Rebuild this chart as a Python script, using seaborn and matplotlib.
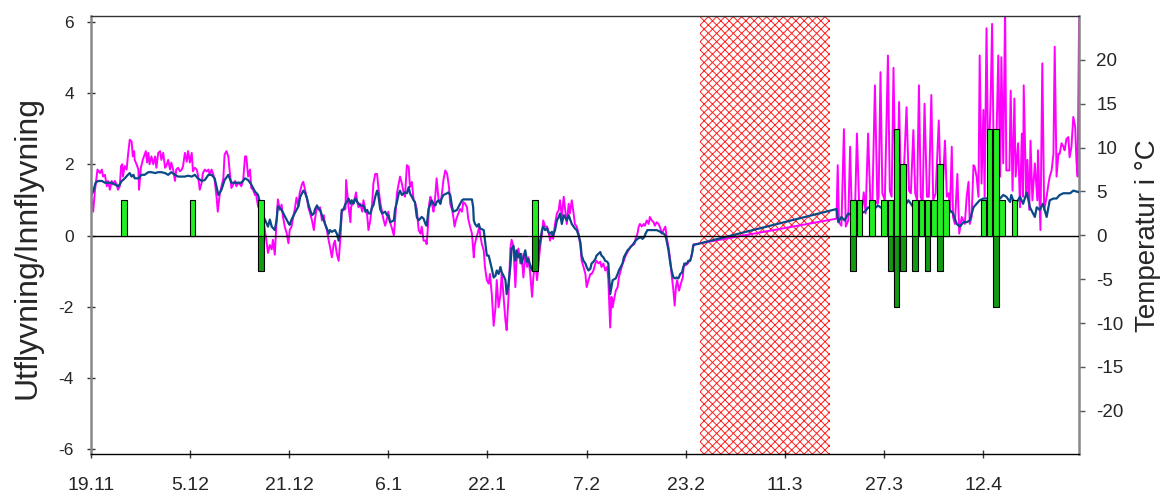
import matplotlib
matplotlib.use("Agg")
import matplotlib.pyplot as plt
import seaborn as sns

sns.set_theme(style="white")
plt.rcParams["font.family"] = ["Liberation Sans", "DejaVu Sans"]
plt.rcParams["axes.unicode_minus"] = False
plt.rcParams["hatch.linewidth"] = 0.7

# x is days counted from 19.11
tick_days = [0, 16, 32, 48, 64, 80, 96, 112, 128, 144]
tick_labels = ["19.11", "5.12", "21.12", "6.1", "22.1", "7.2", "23.2", "11.3", "27.3", "12.4"]

# period without data (hatched)
gap_start, gap_end = 98.3, 119.3

# flights out/in per day
out_days = [5.4, 16.4, 27.5, 71.7, 123, 124, 126, 128, 129, 130, 131, 133, 134, 135,
            136, 137, 138, 144, 145, 146, 147, 149]
out_count = [1, 1, 1, 1, 1, 1, 1, 1, 1, 3, 2, 1, 1, 1,
             1, 2, 1, 1, 3, 3, 1, 1]
in_days = [27.5, 71.7, 123, 129, 130, 131, 133, 135, 137, 146]
in_count = [-1, -1, -1, -1, -2, -1, -1, -1, -1, -2]

# temperature, magenta sensor
magenta_day = [
    0.0, 0.1, 0.4, 0.7, 1.1, 1.5, 1.8, 2.0, 2.3, 2.6,
    2.8, 3.1, 3.4, 3.6, 3.9, 4.2, 4.4, 4.7, 4.9, 5.1,
    5.2, 5.5, 5.8, 6.0, 6.3, 6.6, 6.8, 7.0, 7.1, 7.4,
    7.7, 7.8, 8.1, 8.4, 8.6, 8.9, 9.1, 9.3, 9.5, 9.8,
    10.1, 10.4, 10.6, 10.9, 11.2, 11.4, 11.7, 12.0, 12.2, 12.5,
    12.8, 13.0, 13.3, 13.6, 13.8, 14.1, 14.4, 14.7, 14.9, 15.2,
    15.5, 15.7, 16.0, 16.3, 16.5, 16.8, 17.1, 17.3, 17.6, 17.9,
    18.1, 18.4, 18.7, 19.0, 19.2, 19.5, 19.8, 20.0, 20.3, 20.5,
    20.7, 20.8, 21.1, 21.4, 21.6, 21.9, 22.2, 22.4, 22.7, 23.0,
    23.3, 23.5, 23.8, 24.1, 24.3, 24.6, 24.9, 25.1, 25.4, 25.7,
    25.9, 26.2, 26.5, 26.7, 27.0, 27.3, 27.6, 27.8, 28.1, 28.4,
    28.6, 28.9, 29.2, 29.4, 29.7, 30.0, 30.2, 30.5, 30.8, 31.0,
    31.3, 31.6, 31.9, 32.1, 32.4, 32.7, 32.9, 33.2, 33.5, 33.7,
    34.1, 34.3, 34.6, 34.9, 35.1, 35.4, 35.7, 36.0, 36.2, 36.5,
    36.8, 37.0, 37.3, 37.6, 37.8, 38.1, 38.4, 38.6, 38.9, 39.2,
    39.4, 39.7, 40.0, 40.3, 40.5, 40.8, 41.1, 41.2, 41.4, 41.6,
    41.9, 42.0, 42.3, 42.6, 42.8, 43.0, 43.2, 43.5, 43.8, 44.0,
    44.3, 44.6, 44.8, 45.1, 45.4, 45.6, 45.9, 46.2, 46.4, 46.7,
    47.0, 47.2, 47.5, 47.8, 48.0, 48.3, 48.6, 48.9, 49.1, 49.4,
    49.7, 49.9, 50.2, 50.5, 50.7, 51.0, 51.3, 51.5, 51.8, 52.1,
    52.3, 52.6, 52.9, 53.2, 53.4, 53.7, 54.0, 54.2, 54.4, 54.6,
    54.8, 54.9, 55.1, 55.3, 55.6, 55.8, 56.1, 56.4, 56.6, 56.9,
    57.2, 57.5, 57.6, 57.8, 58.0, 58.3, 58.5, 58.7, 58.9, 59.1,
    59.3, 59.6, 59.9, 60.1, 60.4, 60.7, 60.9, 61.2, 61.5, 61.8,
    61.9, 62.1, 62.4, 62.7, 62.8, 63.1, 63.4, 63.6, 63.9, 64.2,
    64.4, 64.7, 65.0, 65.3, 65.5, 65.8, 66.1, 66.3, 66.6, 66.9,
    67.1, 67.4, 67.7, 67.9, 68.2, 68.5, 68.7, 69.0, 69.3, 69.5,
    69.8, 70.1, 70.4, 70.6, 70.9, 71.2, 71.4, 71.7, 72.0, 72.2,
    72.5, 72.8, 73.0, 73.3, 73.6, 73.8, 74.1, 74.4, 74.6, 74.9,
    75.2, 75.5, 75.7, 76.0, 76.3, 76.5, 76.8, 77.1, 77.3, 77.6,
    77.9, 78.1, 78.4, 78.7, 79.0, 79.2, 79.5, 79.8, 80.0, 80.3,
    80.6, 80.8, 81.1, 81.4, 81.6, 81.9, 82.2, 82.4, 82.7, 83.0,
    83.3, 83.5, 83.8, 84.0, 84.2, 84.4, 84.7, 85.0, 85.2, 85.5,
    85.8, 86.0, 86.3, 86.6, 86.9, 87.1, 87.4, 87.7, 87.9, 88.2,
    88.4, 88.6, 88.9, 89.2, 89.4, 89.7, 90.0, 90.2, 90.5, 90.8,
    91.0, 91.3, 91.6, 91.9, 92.1, 92.4, 92.7, 92.9, 93.2, 93.5,
    93.7, 94.0, 94.2, 94.4, 94.6, 94.9, 95.2, 95.5, 95.7, 96.0,
    96.3, 96.5, 96.8, 97.1, 97.3, 97.6,
    120.3, 120.5, 120.7, 121.1, 121.5, 121.8, 122.2, 122.5, 122.8, 123.3,
    123.6, 124.0, 124.3, 124.7, 125.0, 125.4, 125.8, 126.1, 126.5, 126.9,
    127.1, 127.4, 127.7, 128.1, 128.6, 128.9, 129.2, 129.5, 129.8, 130.1,
    130.4, 130.7, 131.0, 131.6, 132.0, 132.3, 132.7, 133.0, 133.3, 133.6,
    133.9, 134.2, 134.5, 134.9, 135.2, 135.6, 135.9, 136.3, 136.8, 137.1,
    137.4, 137.8, 138.1, 138.4, 138.6, 138.9, 139.1, 139.4, 139.8, 140.1,
    140.5, 141.0, 141.3, 141.6, 141.8, 142.1, 142.4, 142.6, 142.9, 143.2,
    143.4, 143.7, 144.0, 144.2, 144.5, 144.8, 145.2, 145.4, 145.7, 146.1,
    146.4, 146.7, 146.9, 147.2, 147.5, 147.7, 148.2, 148.4, 148.7, 149.0,
    149.2, 149.6, 149.9, 150.2, 150.4, 150.5, 150.9, 151.1, 151.4, 151.6,
    151.9, 152.3, 152.7, 152.8, 153.2, 153.5, 153.8, 154.2, 154.5, 154.7,
    155.0, 155.3, 155.5, 155.8, 156.1, 156.3, 156.6, 156.9, 157.1, 157.4,
    157.7, 157.9, 158.2, 158.5, 158.8, 159.0, 159.2, 159.5,
]
magenta_temp = [
    7.9, 4.4, 2.7, 5.2, 7.5, 7.1, 7.5, 6.7, 6.9, 5.6,
    6.2, 5.2, 6.2, 5.8, 6.2, 5.8, 5.2, 5.6, 7.9, 8.1,
    6.7, 7.9, 7.5, 9.0, 10.9, 10.7, 9.0, 9.6, 8.6, 8.1,
    7.5, 5.2, 7.7, 8.6, 9.0, 9.6, 8.3, 9.4, 8.1, 9.0,
    8.1, 9.0, 7.7, 9.4, 9.6, 8.6, 9.4, 7.7, 7.9, 8.6,
    7.5, 8.3, 7.5, 6.2, 7.5, 7.7, 7.3, 7.5, 7.9, 9.4,
    8.4, 9.6, 8.3, 9.4, 7.3, 7.7, 7.5, 6.9, 5.2, 6.0,
    7.1, 7.5, 7.3, 7.5, 6.9, 7.5, 6.9, 6.3, 4.4, 2.7,
    3.9, 4.6, 5.6, 6.5, 9.2, 9.6, 9.0, 7.5, 5.4, 5.8,
    6.2, 5.6, 6.0, 5.8, 5.6, 6.3, 9.0, 9.0, 6.7, 7.5,
    5.4, 5.2, 4.6, 4.6, 3.3, 2.9, 2.5, 2.0, 0.6, -0.9,
    -2.0, -1.1, -1.6, -0.5, -2.2, 1.8, 4.1, 2.9, 3.5, 2.2,
    1.0, 0.3, -0.9, 0.6, 1.0, 2.2, 2.9, 4.3, 3.3, 4.8,
    5.9, 6.1, 5.1, 4.2, 3.2, 2.5, 1.7, 0.6, 1.9, 3.4,
    2.9, 3.2, 1.7, 2.3, 1.3, 0.6, -0.6, -1.3, -2.5, -1.0,
    -0.6, -2.1, -2.9, -0.2, 2.7, 2.9, 3.0, 6.3, 4.8, 3.2,
    1.5, 3.2, 3.8, 4.2, 4.9, 3.8, 3.2, 3.6, 2.7, 4.0,
    3.0, 2.3, 0.6, 1.7, 3.6, 5.9, 7.0, 7.0, 5.5, 3.8,
    2.7, 1.9, 1.1, 1.9, 2.7, 1.5, 0.8, 0.0, 1.7, 4.8,
    5.9, 6.7, 5.9, 4.8, 4.4, 8.0, 7.8, 5.5, 6.1, 4.0,
    3.8, 3.0, 0.6, 0.2, 1.0, -0.6, -0.6, -1.0, 1.0, 3.6,
    4.4, 4.2, 3.4, 2.7, 4.6, 6.5, 4.2, 3.6, 4.4, 6.3,
    7.4, 7.0, 6.5, 5.5, 3.6, 2.9, 2.1, 1.0, 1.7, 2.1,
    2.5, 3.0, 2.7, 3.8, 3.6, 3.2, 1.9, 1.0, 0.2, -2.5,
    -1.3, -0.6, 0.2, 1.0, 0.2, -1.0, -1.7, -3.6, -5.1, -5.5,
    -4.4, -6.7, -10.3, -8.2, -5.1, -8.2, -6.7, -4.2, -7.0, -9.7,
    -10.8, -7.0, -1.5, -0.5, -1.3, -5.9, -2.9, -1.5, -3.2, -2.1,
    -4.8, -2.1, -3.6, -2.5, -4.4, -7.0, -4.8, -2.9, -5.1, -3.6,
    -1.3, 0.2, 1.7, 1.0, 1.0, 0.6, -0.6, 0.2, -0.4, 1.3,
    2.5, 2.9, 4.0, 2.1, 4.4, 3.2, 1.3, 3.6, 2.5, 4.0,
    2.5, 1.3, 1.0, 0.2, -1.3, -2.9, -3.6, -4.4, -5.9, -5.1,
    -4.4, -4.4, -4.0, -3.2, -2.9, -3.2, -3.0, -3.6, -3.2, -4.0,
    -3.6, -5.1, -10.5, -7.0, -8.2, -7.4, -6.3, -5.9, -4.8, -4.0,
    -3.2, -2.9, -2.3, -1.9, -1.5, -1.3, -1.1, -1.0, -0.4, 0.2,
    1.0, 1.3, 1.0, 1.3, 1.1, 1.7, 1.3, 2.1, 1.7, 1.5,
    1.1, 1.5, 1.3, 0.8, 0.2, 0.6, 1.0, -0.2, -1.3, -2.9,
    -4.4, -6.3, -8.0, -5.9, -5.1, -6.3, -5.5, -4.8, -3.2, -3.4,
    -3.2, -3.0, -2.7, -1.7, -1.0, -1.0,
    1.9, 8.0, 1.5, 1.1, 12.1, 1.0, 1.7, 10.1, 1.5, 3.2,
    11.6, 2.5, 2.1, 4.9, 2.5, 11.6, 3.2, 4.0, 17.1, 3.6,
    4.4, 18.6, 4.8, 4.0, 20.5, 5.1, 4.4, 19.1, 5.5, 4.4,
    15.2, 5.1, 4.4, 14.6, 5.1, 4.8, 12.0, 4.8, 4.0, 17.1,
    4.4, 3.6, 15.0, 4.4, 4.4, 16.0, 4.0, 4.8, 13.1, 5.9,
    4.8, 10.8, 4.4, 4.8, 2.9, 10.1, 2.1, 1.3, 7.0, 0.2,
    2.1, 1.3, 4.4, 6.1, 1.3, 2.1, 8.0, 7.8, 6.7, 4.4,
    20.5, 5.9, 14.3, 4.4, 23.6, 6.7, 16.5, 24.1, 6.7, 10.8,
    20.5, 6.7, 20.3, 8.2, 26.0, 7.4, 7.4, 16.5, 5.1, 15.6,
    6.7, 10.5, 3.2, 11.6, 4.4, 17.1, 4.4, 8.6, 2.9, 10.8,
    4.0, 8.2, 4.0, 9.7, 0.6, 19.6, 2.9, 4.4, 5.9, 6.7,
    7.4, 9.3, 21.5, 6.7, 9.3, 9.3, 10.5, 10.1, 9.7, 11.0,
    11.2, 8.9, 10.1, 13.5, 12.4, 8.6, 6.7, 30.0,
]

# temperature, dark blue sensor
blue_day = [
    0.0, 0.1, 0.4, 0.8, 1.2, 1.8, 2.3, 2.8, 3.4, 3.9,
    4.4, 4.7, 5.0, 5.2, 5.5, 6.0, 6.3, 6.6, 6.9, 7.1,
    7.7, 8.2, 8.7, 9.3, 9.8, 10.4, 10.9, 11.4, 12.0, 12.5,
    13.0, 13.6, 14.1, 15.2, 15.7, 16.3, 16.8, 17.3, 17.9, 18.4,
    19.0, 19.5, 20.0, 20.6, 21.1, 21.6, 22.2, 22.7, 23.3, 24.3,
    24.9, 25.4, 25.9, 26.5, 27.0, 27.6, 27.8, 28.1, 28.6, 28.9,
    29.2, 29.7, 30.0, 30.2, 30.8, 31.3, 31.9, 32.1, 32.4, 32.9,
    33.5, 33.8, 34.3, 34.6, 34.9, 35.1, 35.4, 35.7, 36.0, 36.2,
    36.5, 36.8, 37.0, 37.3, 37.6, 37.8, 38.1, 38.4, 38.6, 38.9,
    39.4, 39.7, 40.0, 40.3, 40.5, 40.8, 41.1, 41.3, 41.6, 41.9,
    42.1, 42.4, 42.7, 43.0, 43.5, 44.0, 44.3, 44.6, 44.8, 45.1,
    45.4, 45.6, 45.9, 46.2, 46.4, 46.7, 47.0, 47.5, 47.8, 48.0,
    48.3, 48.9, 49.1, 49.4, 49.7, 49.9, 50.2, 50.7, 51.0, 51.3,
    51.5, 51.8, 52.1, 52.3, 52.6, 52.9, 53.4, 53.7, 54.0, 54.2,
    54.5, 54.8, 55.0, 55.3, 55.6, 55.8, 56.1, 56.4, 56.6, 56.9,
    57.5, 57.7, 58.0, 58.3, 58.5, 59.1, 59.3, 59.6, 59.9, 60.1,
    61.5, 61.7, 61.8, 62.0, 62.3, 62.6, 62.8, 63.4, 63.6, 63.9,
    64.2, 64.4, 64.7, 65.0, 65.3, 65.5, 65.8, 66.1, 66.3, 66.6,
    66.9, 67.1, 67.4, 67.7, 67.9, 68.2, 68.5, 68.7, 69.0, 69.3,
    69.5, 69.8, 70.1, 70.4, 70.6, 70.9, 71.2, 71.4, 71.7, 72.0,
    72.2, 72.5, 72.8, 73.0, 73.3, 73.6, 73.8, 74.1, 74.4, 74.6,
    74.9, 75.2, 75.5, 75.7, 76.0, 76.3, 76.5, 76.8, 77.1, 77.3,
    77.6, 77.9, 78.1, 78.4, 78.7, 79.0, 79.2, 79.5, 79.8, 80.0,
    80.3, 80.6, 80.8, 81.1, 81.4, 81.6, 81.9, 82.2, 82.4, 82.7,
    83.0, 83.3, 83.5, 83.8, 84.0, 84.2, 84.7, 85.0, 85.2, 85.5,
    85.8, 86.0, 86.3, 86.6, 86.9, 87.1, 87.4, 87.7, 87.9, 88.2,
    88.7, 89.0, 89.3, 89.5, 89.8, 91.3, 91.9, 92.4, 92.7, 92.9,
    93.2, 93.5, 93.7, 94.0, 94.3, 94.5, 94.8, 95.1, 95.4, 95.6,
    95.9, 96.2, 96.4, 96.7, 97.0, 97.2, 97.8,
    120.3, 120.6, 121.1, 121.6, 122.2, 122.7, 123.3, 124.1, 124.9, 125.4,
    126.2, 127.0, 127.8, 128.6, 129.4, 130.2, 131.0, 131.9, 132.7, 133.5,
    134.3, 135.1, 135.9, 136.7, 137.5, 138.3, 138.6, 139.1, 139.7, 140.2,
    140.8, 141.3, 141.8, 142.4, 142.9, 143.4, 144.0, 144.5, 145.0, 145.6,
    146.1, 146.7, 147.2, 147.7, 148.3, 148.5, 148.8, 149.4, 149.9, 150.4,
    151.0, 151.5, 152.0, 152.3, 152.6, 153.1, 153.6, 154.2, 154.7, 155.3,
    155.8, 156.3, 156.9, 158.0, 158.5, 159.5,
]
blue_temp = [
    7.5, 4.6, 5.0, 6.0, 6.2, 6.2, 6.0, 6.0, 6.0, 5.8,
    5.6, 5.8, 6.2, 6.3, 6.5, 6.9, 7.1, 6.7, 6.9, 6.5,
    6.5, 6.9, 6.9, 7.2, 7.2, 7.1, 7.2, 7.2, 7.1, 6.9,
    7.2, 6.9, 6.7, 6.7, 6.8, 6.7, 6.9, 6.5, 6.2, 6.3,
    6.9, 6.9, 6.5, 4.6, 5.2, 6.3, 6.9, 6.0, 6.0, 6.0,
    6.5, 6.3, 5.8, 5.0, 4.6, 2.9, 2.2, 1.8, 1.0, 1.8,
    1.0, 0.6, 1.8, 3.3, 2.9, 2.2, 1.4, 1.2, 1.8, 2.5,
    3.3, 4.4, 5.1, 4.8, 4.2, 3.6, 2.9, 2.3, 2.5, 3.0,
    3.4, 3.0, 2.9, 2.3, 1.7, 1.3, 0.8, 0.2, 0.6, 0.4,
    0.6, 0.2, -0.6, 1.0, 2.9, 3.0, 3.6, 3.8, 4.2, 3.6,
    4.0, 3.6, 4.2, 3.8, 3.4, 3.4, 2.7, 2.9, 2.5, 2.5,
    3.2, 3.4, 4.4, 5.1, 4.6, 3.0, 2.5, 2.7, 2.3, 2.3,
    1.5, 1.7, 3.0, 3.8, 4.8, 5.1, 4.6, 4.9, 4.8, 5.5,
    4.8, 4.4, 4.0, 3.8, 2.1, 1.7, 2.1, 1.9, 1.3, 1.1,
    3.0, 3.6, 4.0, 3.6, 3.4, 3.8, 4.0, 3.6, 4.2, 4.6,
    4.8, 4.9, 4.6, 3.2, 2.7, 2.9, 3.2, 3.6, 4.0, 4.1,
    4.1, 3.2, 1.7, 1.3, 1.0, 1.3, 0.8, 0.6, -0.6, -2.3,
    -2.3, -2.9, -3.8, -4.8, -4.6, -4.0, -4.4, -3.6, -4.2, -4.6,
    -5.1, -6.7, -5.5, -3.5, -1.5, -1.2, -2.9, -1.7, -2.5, -2.1,
    -3.2, -2.5, -1.7, -3.0, -2.7, -3.4, -4.0, -3.2, -2.9, -2.5,
    -2.1, -0.6, 0.6, 1.0, 0.6, 0.8, 0.4, 0.2, 0.4, 0.0,
    0.6, 1.7, 2.1, 2.5, 1.3, 2.3, 2.1, 1.7, 2.3, 1.9,
    1.3, 1.0, 0.8, 0.6, 0.0, -0.8, -2.3, -2.9, -3.2, -3.6,
    -4.0, -3.8, -3.2, -3.0, -2.7, -2.3, -2.1, -1.9, -2.3, -2.5,
    -2.9, -3.0, -3.2, -6.7, -5.9, -5.1, -4.9, -4.4, -4.0, -3.6,
    -3.2, -2.5, -2.1, -1.7, -1.5, -1.3, -1.1, -0.8, -0.6, -0.4,
    -0.2, -0.4, -0.2, 0.2, 0.6, 0.6, 0.4, 0.2, 0.0, -0.6,
    -1.7, -3.2, -4.0, -4.8, -4.9, -4.8, -4.9, -4.4, -4.2, -3.6,
    -3.2, -3.2, -2.9, -2.9, -2.1, -1.1, -1.0,
    3.0, 1.5, 2.1, 1.7, 2.5, 2.3, 2.1, 2.5, 2.7, 3.2,
    2.9, 3.4, 3.0, 3.2, 3.6, 3.2, 3.0, 4.0, 3.2, 3.0,
    2.5, 2.9, 3.0, 2.7, 2.9, 2.1, 2.9, 2.5, 1.3, 1.0,
    1.5, 1.5, 1.7, 3.2, 3.6, 4.0, 4.2, 4.2, 4.4, 4.0,
    4.4, 4.2, 4.6, 4.4, 3.8, 4.6, 4.0, 3.8, 4.4, 3.6,
    4.9, 3.2, 2.5, 2.1, 3.2, 2.9, 3.6, 2.1, 4.0, 4.2,
    4.2, 4.6, 4.8, 4.8, 5.1, 4.9,
]

assert len(magenta_day) == len(magenta_temp), (len(magenta_day), len(magenta_temp))
assert len(blue_day) == len(blue_temp), (len(blue_day), len(blue_temp))

fig = plt.figure(figsize=(11.61, 4.92), dpi=100)
ax = fig.add_axes([0.0781, 0.0766, 0.8517, 0.8909])
ax2 = ax.twinx()
# bars sit above the temperature lines
ax.set_zorder(ax2.get_zorder() + 1)
ax.patch.set_visible(False)

ax2.axvspan(gap_start, gap_end, facecolor="white", edgecolor="#ff2020",
            hatch="xxxx", linewidth=0, zorder=0)
sns.lineplot(x=magenta_day, y=magenta_temp, ax=ax2, color="#ff00ff", lw=1.4,
             estimator=None, sort=False, zorder=2)
sns.lineplot(x=blue_day, y=blue_temp, ax=ax2, color="#0b4a87", lw=1.6,
             estimator=None, sort=False, zorder=3)

ax.axhline(0, color="black", lw=1.0, zorder=1)
ax.bar(out_days, out_count, width=0.9, color="#22ee22", edgecolor="black", linewidth=0.8, zorder=2)
ax.bar(in_days, in_count, width=0.9, color="#129a12", edgecolor="black", linewidth=0.8, zorder=2)

ax.set_xlim(0, 159.5)
ax.set_ylim(-6.16, 6.18)
ax.set_yticks([-6, -4, -2, 0, 2, 4, 6])
ax2.set_ylim(-24.95, 25.0)
ax2.set_yticks([-20, -15, -10, -5, 0, 5, 10, 15, 20])
ax.set_xticks(tick_days)
ax.set_xticklabels(tick_labels)

ax.tick_params(axis="x", bottom=True, direction="inout", length=6, width=1,
               color="#333333", labelsize=14, pad=13)
ax.tick_params(axis="y", left=True, direction="inout", length=6, width=1,
               color="#333333", labelsize=12.5, pad=9)
ax2.tick_params(axis="y", right=True, direction="out", length=4, width=1,
                color="#555555", labelsize=13.5, pad=8)

ax.set_ylabel("Utflyvning/Innflyvning", fontsize=23)
ax.yaxis.set_label_coords(-0.049, 0.472)
ax2.set_ylabel("Temperatur i °C", fontsize=20)
ax2.yaxis.set_label_coords(1.056, 0.5)

for name, sp in ax.spines.items():
    sp.set_visible(name != "right")
ax.spines["left"].set_color("#888888")
ax.spines["left"].set_linewidth(1.8)
ax.spines["bottom"].set_color("black")
ax.spines["bottom"].set_linewidth(1.0)
ax.spines["top"].set_color("#333333")
ax.spines["top"].set_linewidth(1.0)
for name, sp in ax2.spines.items():
    sp.set_visible(name == "right")
ax2.spines["right"].set_color("#888888")
ax2.spines["right"].set_linewidth(1.8)

fig.savefig("out.png", dpi=100)
